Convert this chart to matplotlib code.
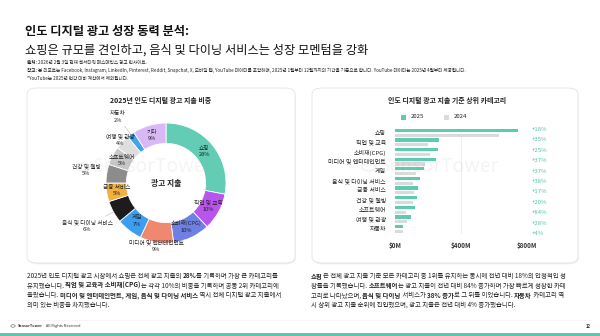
import matplotlib
matplotlib.use("Agg")
import matplotlib.pyplot as plt
import numpy as np
from matplotlib.patches import FancyBboxPatch, Rectangle, Circle

plt.rcParams['font.family'] = ['Noto Sans CJK KR', 'DejaVu Sans']

W, H = 600, 336

# ---- data -------------------------------------------------------------
share_labels = ['쇼핑', '직업 및 교육', '소비재(CPG)', '미디어 및 엔터테인먼트', '게임',
                '음식 및 다이닝 서비스', '금융 서비스', '건강 및 웰빙', '소프트웨어',
                '여행 및 관광', '자동차', '기타']
share_values = [28, 10, 10, 9, 7, 6, 5, 5, 5, 4, 2, 9]

bar_categories = ['쇼핑', '직업 및 교육', '소비재(CPG)', '미디어 및 엔터테인먼트', '게임',
                  '음식 및 다이닝 서비스', '금융 서비스', '건강 및 웰빙', '소프트웨어',
                  '여행 및 관광', '자동차']
spend_2025 = [744, 269, 263, 247, 178, 152, 138, 132, 123, 95, 50]
spend_2024 = [630, 199, 210, 180, 130, 110, 118, 110, 67, 74, 48]
growth_pct = [18, 35, 25, 37, 37, 38, 17, 20, 84, 28, 4]
x_ticks = [0, 400, 800]
x_tick_labels = ['$0M', '$400M', '$800M']

# ---- styling ------------------------------------------------------------
share_colors = ['#62CDB4', '#B955EE', '#6E80E4', '#F0886F', '#3D9DF0', '#1C1C1C',
                '#F2B03F', '#8C8C8C', '#C8C8C8', '#DEDEDE', '#3FA3F0', '#D9B9F5']
TEAL = '#5DCAB2'
GREY24 = '#DADADA'
TXT = '#222222'

fig = plt.figure(figsize=(W / 100, H / 100), dpi=100)
fig.patch.set_facecolor('white')


def fx(px):
    return px / W


def fy(py):
    return 1 - py / H


def px_axes(x0, y0, x1, y1, **kw):
    return fig.add_axes([fx(x0), fy(y1), (x1 - x0) / W, (y1 - y0) / H], **kw)


renderer = fig.canvas.get_renderer()


def text_width(s, size, weight):
    a = fig.text(0, 0, 'x' + s + 'x', fontsize=size, fontweight=weight)
    b = fig.text(0, 0, 'xx', fontsize=size, fontweight=weight)
    w = a.get_window_extent(renderer).width - b.get_window_extent(renderer).width
    a.remove()
    b.remove()
    return w


def rich_line(x_px, y_px, parts, size, color=TXT):
    x = x_px
    for s, bold in parts:
        wt = 'bold' if bold else 'normal'
        fig.text(fx(x), fy(y_px), s, fontsize=size, fontweight=wt, color=color,
                 ha='left', va='center')
        x += text_width(s, size, wt)


# ---- header -------------------------------------------------------------
fig.text(fx(25), fy(31), '인도 디지털 광고 성장 동력 분석:', fontsize=8.8,
         fontweight='bold', color='#111111', ha='left', va='center')
fig.text(fx(25), fy(50), '쇼핑은 규모를 견인하고, 음식 및 다이닝 서비스는 성장 모멘텀을 강화',
         fontsize=8.8, color='#111111', ha='left', va='center')

note_size = 3.3
rich_line(27, 62.5, [('출처: ', True), ('2026년 2월 3일 현재 센서타워 패스매틱스 광고 인사이트.', False)], note_size)
rich_line(27, 70.5, [('참고: ', True),
                     ('본 리포트는 Facebook, Instagram, LinkedIn, Pinterest, Reddit, Snapchat, X, 모바일 웹, '
                      'YouTube 데이터를 포함하며, 2025년 1월부터 12월까지의 기간을 기준으로 합니다. '
                      'YouTube 데이터는 2025년 4월부터 제공됩니다.', False)], note_size)
rich_line(27, 78.5, [('*YouTube는 2025년 연간 대비 계산에서 제외됩니다.', False)], note_size)

# ---- panel cards (behind the axes) -------------------------------------
for (x0, x1) in [(27, 295), (312, 578)]:
    y0, y1 = 88, 263
    shadow = FancyBboxPatch((fx(x0) + 0.001, fy(y1) - 0.004), (x1 - x0) / W, (y1 - y0) / H,
                            boxstyle='round,pad=0,rounding_size=0.018',
                            transform=fig.transFigure, facecolor='#EFEFEF',
                            edgecolor='none', zorder=-3)
    card = FancyBboxPatch((fx(x0), fy(y1)), (x1 - x0) / W, (y1 - y0) / H,
                          boxstyle='round,pad=0,rounding_size=0.018',
                          transform=fig.transFigure, facecolor='white',
                          edgecolor='#E4E4E4', linewidth=0.6, zorder=-2)
    fig.patches.extend([shadow, card])

# ---- donut chart --------------------------------------------------------
cx, cy, R = 166, 183, 60
ax_d = px_axes(cx - 1.5 * R, cy - 1.5 * R, cx + 1.5 * R, cy + 1.5 * R)
wedges, _ = ax_d.pie(share_values, colors=share_colors, startangle=90, counterclock=False,
                     radius=1.0, wedgeprops=dict(width=0.34, edgecolor='white', linewidth=0.6))
ax_d.set_xlim(-1.5, 1.5)
ax_d.set_ylim(-1.5, 1.5)
ax_d.set_aspect('equal')
ax_d.axis('off')

label_r = [0.83, 0.80, 0.80, 1.06, 0.80, 1.50, 0.83, 1.34, 0.82, 1.04, 1.36, 0.82]
leaders = {5: (1.0, 1.15), 10: (1.0, 1.17)}
for i, (w, lab, val) in enumerate(zip(wedges, share_labels, share_values)):
    ang = np.deg2rad((w.theta1 + w.theta2) / 2)
    r = label_r[i]
    ax_d.text(r * np.cos(ang), r * np.sin(ang), f'{lab}\n{val}%', ha='center', va='center',
              fontsize=4.1, color=TXT, linespacing=1.35, zorder=5)
    if i in leaders:
        r0, r1 = leaders[i]
        ax_d.plot([r0 * np.cos(ang), r1 * np.cos(ang)], [r0 * np.sin(ang), r1 * np.sin(ang)],
                  color='#BBBBBB', lw=0.4)
ax_d.text(0, 0, '광고 지출', ha='center', va='center', fontsize=5.6, fontweight='bold', color=TXT)

fig.text(fx(161), fy(100), '2025년 인도 디지털 광고 지출 비중', ha='center', va='center',
         fontsize=5.0, fontweight='bold', color=TXT)

# ---- bar chart ----------------------------------------------------------
row0, row_step = 132.7, 9.63
ax_b = px_axes(395, row0 - 0.8 * row_step, 527, row0 + 10.8 * row_step)
n = len(bar_categories)
ypos = np.arange(n)
ax_b.barh(ypos - 0.25, spend_2025, height=0.33, color=TEAL, zorder=3)
ax_b.barh(ypos + 0.25, spend_2024, height=0.33, color=GREY24, zorder=3)
ax_b.set_xlim(0, 800)
ax_b.set_ylim(10.8, -0.8)
ax_b.set_yticks(ypos)
ax_b.set_yticklabels(bar_categories, fontsize=4.3, color=TXT)
ax_b.set_xticks(x_ticks)
ax_b.set_xticklabels(x_tick_labels, fontsize=4.5, color='#333333', fontweight='bold')
ax_b.tick_params(axis='y', length=0, pad=6.5)
ax_b.tick_params(axis='x', length=0, pad=3.6)
for s in ax_b.spines.values():
    s.set_visible(False)
ax_b.set_facecolor('none')
ax_b.grid(False)
for xv in x_ticks[1:]:
    ax_b.axvline(xv, ymin=0.03, ymax=0.96, color='#EBEBEB', lw=0.6, zorder=1)

g_top, g_step = 129.3, 10.43
for i, g in enumerate(growth_pct):
    gy = (g_top + i * g_step - row0) / row_step
    ax_b.text(828, gy, f'+{g}%', ha='left', va='center', fontsize=4.3, color='#4FC4A9',
              clip_on=False)

fig.text(fx(447), fy(100), '인도 디지털 광고 지출 기준 상위 카테고리', ha='center', va='center',
         fontsize=5.0, fontweight='bold', color=TXT)
# legend
fig.patches.append(Rectangle((fx(401), fy(119.5)), 5 / W, 5 / H, transform=fig.transFigure,
                             facecolor=TEAL, edgecolor='none'))
fig.text(fx(411), fy(117), '2025', ha='left', va='center', fontsize=4.3, color=TXT)
fig.patches.append(Rectangle((fx(444), fy(119.5)), 5 / W, 5 / H, transform=fig.transFigure,
                             facecolor=GREY24, edgecolor='none'))
fig.text(fx(454), fy(117), '2024', ha='left', va='center', fontsize=4.3, color=TXT)

# ---- watermarks ---------------------------------------------------------
for wx in (92, 378):
    fig.text(fx(wx), fy(167), 'SensorTower', ha='left', va='center', fontsize=14,
             color='#9A9A9A', alpha=0.10, zorder=10)
    fig.patches.append(Circle((fx(wx - 9), fy(167)), 7 / W, transform=fig.transFigure,
                              facecolor='none', edgecolor='#9A9A9A', alpha=0.10, lw=1.5,
                              zorder=10))

# ---- commentary ---------------------------------------------------------
ps = 4.6
left_lines = [
    [('2025년 인도 디지털 광고 시장에서 쇼핑은 전체 광고 지출의 ', False), ('28%', True),
     ('를 기록하며 가장 큰 카테고리를', False)],
    [('유지했습니다. ', False), ('직업 및 교육과 소비재(CPG)', True),
     ('는 각각 10%의 비중을 기록하며 공동 2위 카테고리에', False)],
    [('올랐습니다. ', False), ('미디어 및 엔터테인먼트, 게임, 음식 및 다이닝 서비스', True),
     (' 역시 전체 디지털 광고 지출에서', False)],
    [('의미 있는 비중을 차지했습니다.', False)],
]
right_lines = [
    [('쇼핑', True), ('은 전체 광고 지출 기준 모든 카테고리 중 1위를 유지하는 동시에 전년 대비 18%의 안정적인 성', False)],
    [('장률을 기록했습니다. ', False), ('소프트웨어', True),
     ('는 광고 지출이 전년 대비 84% 증가하며 가장 빠르게 성장한 카테', False)],
    [('고리로 나타났으며, ', False), ('음식 및 다이닝', True), (' 서비스가 ', False),
     ('38% 증가', True), ('로 그 뒤를 이었습니다. ', False), ('자동차', True), (' 카테고리 역', False)],
    [('시 상위 광고 지출 순위에 진입했으며, 광고 지출은 전년 대비 4% 증가했습니다.', False)],
]
for k, parts in enumerate(left_lines):
    rich_line(27, 276 + k * 9.6, parts, ps)
for k, parts in enumerate(right_lines):
    rich_line(311, 276 + k * 9.6, parts, ps)

# ---- footer -------------------------------------------------------------
fig.lines.append(plt.Line2D([fx(8), fx(592)], [fy(320), fy(320)], transform=fig.transFigure,
                            color='#F0F0F0', lw=0.5))
fig.patches.append(Circle((fx(13), fy(326)), 2.2 / W, transform=fig.transFigure,
                          facecolor='none', edgecolor='#555555', lw=0.4))
rich_line(17.5, 326, [('SensorTower', True), (' · All Rights Reserved', False)], 2.8, '#333333')
fig.text(fx(588), fy(326), '12', ha='center', va='center', fontsize=3.0, color='#333333',
         fontweight='bold')
fig.patches.append(Rectangle((0, 0), 1, 3.5 / H, transform=fig.transFigure,
                             facecolor='#5CC8B0', edgecolor='none'))

fig.savefig('out.png', dpi=100, facecolor='white')
